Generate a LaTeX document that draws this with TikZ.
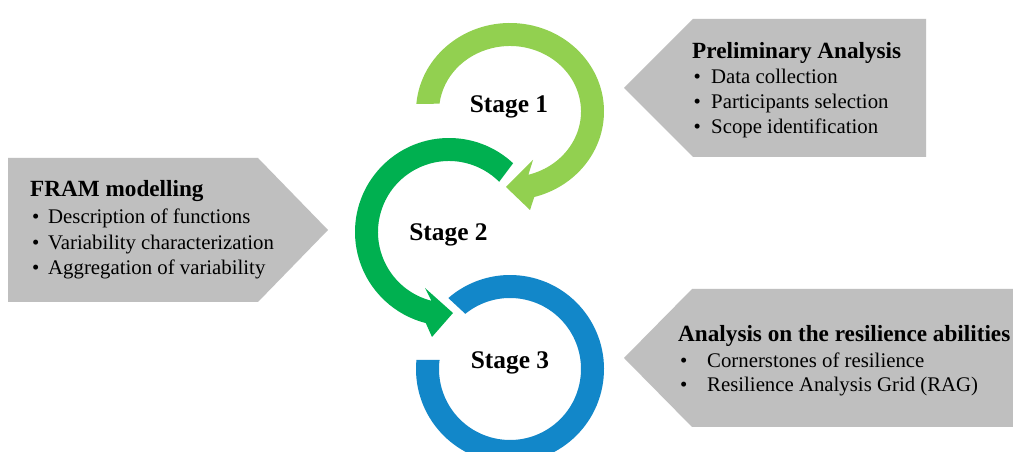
\documentclass[tikz,border=0pt]{standalone}
\usepackage{fontspec}
\setmainfont{Liberation Serif}
\usetikzlibrary{calc}
\definecolor{lgreen}{HTML}{92D050}
\definecolor{dgreen}{HTML}{00B050}
\definecolor{sblue}{HTML}{1287C9}
\definecolor{panelgray}{HTML}{BFBFBF}
\begin{document}
\begin{tikzpicture}[x=1pt,y=1pt,
  panel/.style={fill=panelgray},
  headtxt/.style={anchor=base west, inner sep=0pt, font=\rmfamily\bfseries\fontsize{23.2}{28}\selectfont},
  itemtxt/.style={anchor=base west, inner sep=0pt, font=\rmfamily\mdseries\fontsize{20.8}{25}\selectfont},
  stagetxt/.style={anchor=base, inner sep=0pt, font=\rmfamily\bfseries\fontsize{25.4}{30}\selectfont}]
\clip (0,0) rectangle (1013,452);
\fill[white] (0,0) rectangle (1013,452);
% panels
\fill[panel] (624,364) -- (693,433) -- (926,433) -- (926,295) -- (693,295) -- cycle;
\fill[panel] (8,294) -- (258,294) -- (328,222) -- (258,150) -- (8,150) -- cycle;
\fill[panel] (624,94) -- (692,163) -- (1030,163) -- (1030,25) -- (692,25) -- cycle;
% centres
\coordinate (c1) at (510,340.5);
\coordinate (c2) at (449,220);
\coordinate (c3) at (510,83);
% stage 3 ring
\fill[sblue] ($(c3)+(174.5:94)$) arc[start angle=174.5,end angle=491,radius=94]
  -- ($(c3)+(489:71)$) arc[start angle=489,end angle=172.7,radius=71] -- cycle;
% stage 2 arrow
\fill[dgreen] ($(c2)+(47:94)$) arc[start angle=47,end angle=255.7,radius=94]
  -- (432,115) -- (453,139) -- (425,164)
  -- ($(c2)+(255.7:71)$) arc[start angle=255.7,end angle=45,radius=71] -- cycle;
% stage 1 arrow
\fill[lgreen] ($(c1)+(175:94 and 88.5)$) arc[start angle=175,end angle=-75,x radius=94,y radius=88.5]
  -- (530,242) -- (506,265) -- (533,292)
  -- ($(c1)+(-75:71 and 65.5)$) arc[start angle=-75,end angle=173.2,x radius=71,y radius=65.5] -- cycle;
% stage labels
\node[stagetxt] (s1) at (509,339.3) {Stage 1};
\node[stagetxt] (s2) at (448.5,211) {Stage 2};
\node[stagetxt] (s3) at (510,83) {Stage 3};
% top right panel text
\node[headtxt] (h1) at (692,393.7) {Preliminary Analysis};
\node[itemtxt] (b11) at (693.5,368) {•};
\node[itemtxt] (t11) at (711,368) {Data collection};
\node[itemtxt] (b12) at (693.5,343) {•};
\node[itemtxt] (t12) at (711,343) {Participants selection};
\node[itemtxt] (b13) at (693.5,318.5) {•};
\node[itemtxt] (t13) at (711,318.5) {Scope identification};
% left panel text
\node[headtxt] (h2) at (30,255.3) {FRAM modelling};
\node[itemtxt] (b21) at (31.8,228) {•};
\node[itemtxt] (t21) at (48,228) {Description of functions};
\node[itemtxt] (b22) at (31.8,202.5) {•};
\node[itemtxt] (t22) at (48,202.5) {Variability characterization};
\node[itemtxt] (b23) at (31.8,177.5) {•};
\node[itemtxt] (t23) at (48,177.5) {Aggregation of variability};
% bottom right panel text
\node[headtxt] (h3) at (678,110.3) {Analysis on the resilience abilities};
\node[itemtxt] (b31) at (680,84.7) {•};
\node[itemtxt] (t31) at (707,84.7) {Cornerstones of resilience};
\node[itemtxt] (b32) at (680,60.3) {•};
\node[itemtxt] (t32) at (707,60.3) {Resilience Analysis Grid (RAG)};
\end{tikzpicture}
\end{document}
